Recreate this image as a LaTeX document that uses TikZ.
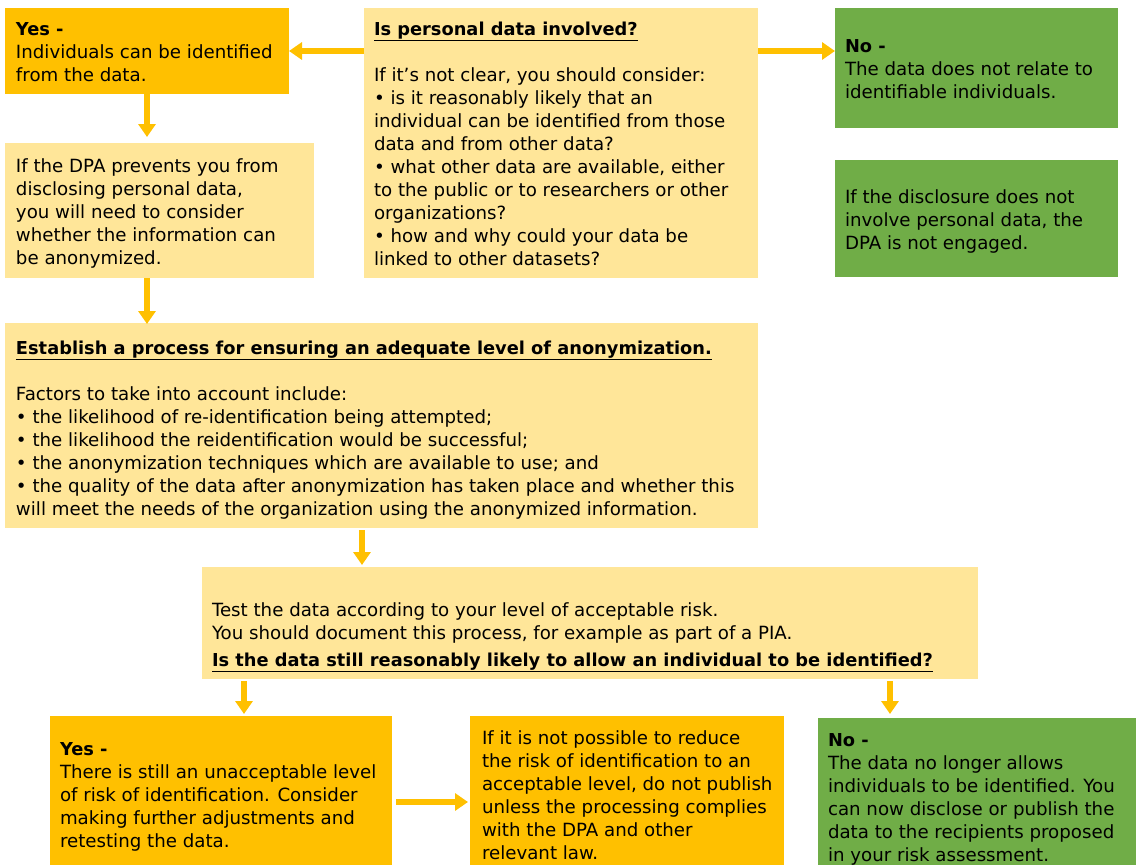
\documentclass[tikz,border=0pt]{standalone}
\usepackage{fontspec}
\setmainfont{DejaVu Sans}
\usetikzlibrary{arrows.meta}
\definecolor{amber}{HTML}{FFC000}
\definecolor{pale}{HTML}{FFE699}
\definecolor{leaf}{HTML}{70AD47}
\newcommand{\headline}[1]{{\fontsize{17.8}{23}\selectfont\textbf{#1}}}
\tikzset{
  box/.style={anchor=north west, inner sep=0pt, outer sep=0pt, draw=none},
  txt/.style={anchor=north west, inner sep=0pt, outer sep=0pt, align=left,
    font=\fontsize{18.2}{23}\selectfont},
  flow/.style={amber, line width=6pt, -{Triangle[width=17pt,length=13pt]}},
}
\begin{document}
\begin{tikzpicture}[x=1pt, y=-1pt]
\useasboundingbox (0,0) rectangle (1136,865);

% boxes
\node[box, fill=amber, minimum width=284pt, minimum height=86pt]  (yes1) at (5,8) {};
\node[box, fill=pale,  minimum width=394pt, minimum height=270pt] (q)    at (364,8) {};
\node[box, fill=leaf,  minimum width=283pt, minimum height=120pt] (no1)  at (835,8) {};
\node[box, fill=leaf,  minimum width=283pt, minimum height=117pt] (g2)   at (835,160) {};
\node[box, fill=pale,  minimum width=309pt, minimum height=135pt] (dpa)  at (5,143) {};
\node[box, fill=pale,  minimum width=753pt, minimum height=205pt] (est)  at (5,323) {};
\node[box, fill=pale,  minimum width=776pt, minimum height=112pt] (test) at (202,567) {};
\node[box, fill=amber, minimum width=342pt, minimum height=149pt] (yesB) at (50,716) {};
\node[box, fill=amber, minimum width=314pt, minimum height=149pt] (mid)  at (470,716) {};
\node[box, fill=leaf,  minimum width=318pt, minimum height=147pt] (noB)  at (818,718) {};

% texts
\node[txt] (yes1t) at (16,18.9) {\strut\headline{Yes -}\\
Individuals can be identified\\
from the data.};
\node[txt] (qt) at (374,18.9) {\strut\underline{\headline{Is personal data involved?}}\\[23pt]
If it’s not clear, you should consider:\\
• is it reasonably likely that an\\
individual can be identified from those\\
data and from other data?\\
• what other data are available, either\\
to the public or to researchers or other\\
organizations?\\
• how and why could your data be\\
linked to other datasets?};
\node[txt] (no1t) at (845,35.9) {\strut\headline{No -}\\
The data does not relate to\\
identifiable individuals.};
\node[txt] (g2t) at (845,186.9) {\strut If the disclosure does not\\
involve personal data, the\\
DPA is not engaged.};
\node[txt] (dpat) at (16,155.9) {\strut If the DPA prevents you from\\
disclosing personal data,\\
you will need to consider\\
whether the information can\\
be anonymized.};
\node[txt] (estt) at (16,337.9) {\strut\underline{\headline{Establish a process for ensuring an adequate level of anonymization.}}\\[23pt]
Factors to take into account include:\\
• the likelihood of re-identification being attempted;\\
• the likelihood the reidentification would be successful;\\
• the anonymization techniques which are available to use; and\\
• the quality of the data after anonymization has taken place and whether this\\
will meet the needs of the organization using the anonymized information.};
\node[txt] (testt) at (212,599.9) {\strut Test the data according to your level of acceptable risk.\\
You should document this process, for example as part of a PIA.\\[4pt]
\underline{\headline{Is the data still reasonably likely to allow an individual to be identified?}}};
\node[txt] (yesBt) at (60,738.9) {\strut\headline{Yes -}\\
There is still an unacceptable level\\
of risk of identification. Consider\\
making further adjustments and\\
retesting the data.};
\node[txt] (midt) at (482,727.9) {\strut If it is not possible to reduce\\
the risk of identification to an\\
acceptable level, do not publish\\
unless the processing complies\\
with the DPA and other\\
relevant law.};
\node[txt] (noBt) at (828,729.9) {\strut\headline{No -}\\
The data no longer allows\\
individuals to be identified. You\\
can now disclose or publish the\\
data to the recipients proposed\\
in your risk assessment.};

% connectors
\draw[flow] (q.west |- yes1.east) -- (yes1.east);
\draw[flow] (q.east |- yes1.east) -- (no1.west |- yes1.east);
\draw[flow, shorten >=6pt] (yes1.south) -- (yes1.south |- dpa.north);
\draw[flow, shorten >=-1pt] (yes1.south |- dpa.south) -- (yes1.south |- est.north);
\coordinate (e1) at (362,528);
\draw[flow, shorten <=2pt, shorten >=2pt] (e1) -- (e1 |- test.north);
\coordinate (t1) at (244,679);
\draw[flow, shorten <=2pt, shorten >=2pt] (t1) -- (t1 |- yesB.north);
\coordinate (t2) at (890,679);
\draw[flow, shorten <=2pt, shorten >=4pt] (t2) -- (t2 |- noB.north);
\coordinate (h1) at (392,802);
\draw[flow, shorten <=4pt, shorten >=2pt] (h1) -- (h1 -| mid.west);
\end{tikzpicture}
\end{document}
